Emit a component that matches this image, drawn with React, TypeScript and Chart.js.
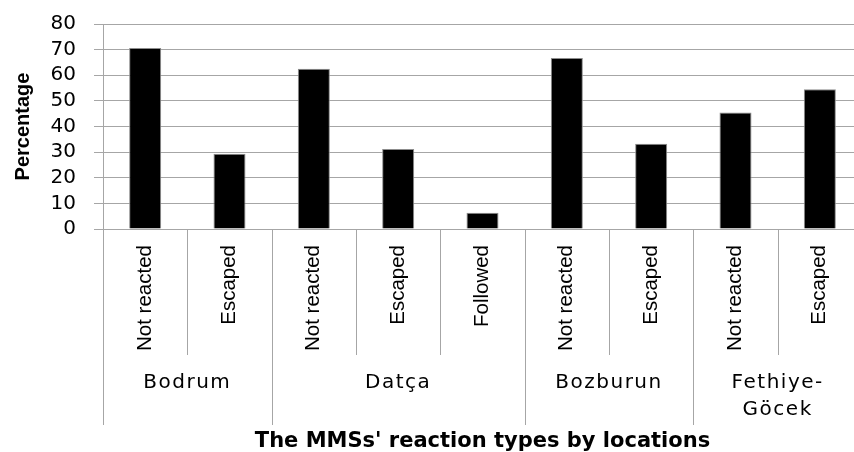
import React, { useEffect, useRef } from "react";
import { Chart, registerables } from "chart.js";

Chart.register(...registerables);

const reactionTypes = [
  "Not reacted",
  "Escaped",
  "Not reacted",
  "Escaped",
  "Followed",
  "Not reacted",
  "Escaped",
  "Not reacted",
  "Escaped",
];
const percentages = [70.6, 29.4, 62.5, 31.2, 6.3, 66.7, 33.3, 45.5, 54.5];
const locations = [["Bodrum"], ["Datça"], ["Bozburun"], ["Fethiye-", "Göcek"]];
const locationSizes = [2, 3, 2, 2];
const yMin = 0;
const yMax = 80;
const yStep = 10;
const yTitle = "Percentage";
const xTitle = "The MMSs' reaction types by locations";

const W = 862;
const H = 452;
const LINE = "#a6a6a6";

const groupPlugin = {
  id: "groupAxis",
  afterDraw(chart: any) {
    const ctx = chart.ctx as CanvasRenderingContext2D;
    const xs = chart.scales.x;
    const area = chart.chartArea;
    const n = reactionTypes.length;
    const bound = (i: number) =>
      i === 0
        ? area.left
        : i === n
        ? area.right
        : (xs.getPixelForValue(i - 1) + xs.getPixelForValue(i)) / 2;

    const groupStarts = new Set<number>();
    let acc = 0;
    groupStarts.add(0);
    locationSizes.forEach((s) => {
      acc += s;
      groupStarts.add(acc);
    });

    ctx.save();
    ctx.strokeStyle = LINE;
    ctx.lineWidth = 1;
    for (let i = 0; i <= n; i++) {
      const px = Math.round(bound(i)) + 0.5;
      const yEnd = groupStarts.has(i) ? area.bottom + 196 : area.bottom + 126;
      ctx.beginPath();
      ctx.moveTo(px, area.bottom);
      ctx.lineTo(px, yEnd);
      ctx.stroke();
    }

    // group labels
    ctx.fillStyle = "#000";
    ctx.textAlign = "center";
    ctx.textBaseline = "middle";
    ctx.font = "20px 'DejaVu Sans'";
    (ctx as any).letterSpacing = "1.5px";
    let start = 0;
    locations.forEach((lines, gi) => {
      const end = start + locationSizes[gi];
      const cx = (bound(start) + bound(end)) / 2;
      lines.forEach((t, li) => {
        ctx.fillText(t, cx, area.bottom + 154 + li * 27);
      });
      start = end;
    });

    // x title
    (ctx as any).letterSpacing = "0px";
    ctx.font = "bold 21px 'DejaVu Sans'";
    ctx.fillText(xTitle, (area.left + area.right) / 2, area.bottom + 213);

    // y title
    ctx.translate(23, (area.top + area.bottom) / 2);
    ctx.rotate(-Math.PI / 2);
    ctx.font = "bold 20px 'Liberation Sans'";
    ctx.fillText(yTitle, 0, 0);
    ctx.restore();
  },
};

export default function App() {
  const ref = useRef<HTMLCanvasElement | null>(null);

  useEffect(() => {
    document.body.style.margin = "0";
    const canvas = ref.current!;
    const chart = new Chart(canvas, {
      type: "bar",
      data: {
        labels: reactionTypes,
        datasets: [
          {
            data: percentages,
            backgroundColor: "#000000",
            borderColor: "#8c8c8c",
            borderWidth: 1,
            barPercentage: 0.38,
            categoryPercentage: 1,
          },
        ],
      },
      options: {
        responsive: false,
        animation: false,
        devicePixelRatio: 1,
        layout: { padding: { top: 24, left: 0, right: 0, bottom: 0 } },
        plugins: {
          legend: { display: false },
          tooltip: { enabled: false },
          title: { display: false },
        },
        scales: {
          x: {
            offset: true,
            grid: { display: false, drawTicks: false },
            border: { display: true, color: LINE },
            ticks: {
              autoSkip: false,
              minRotation: 90,
              maxRotation: 90,
              padding: 16,
              color: "#000",
              font: { family: "'Liberation Sans'", size: 20.5 },
            },
            afterFit: (scale: any) => {
              scale.height = H - 229;
            },
          },
          y: {
            min: yMin,
            max: yMax,
            grid: { color: LINE, tickLength: 9, lineWidth: 1 },
            border: { display: true, color: LINE },
            ticks: {
              autoSkip: false,
              stepSize: yStep,
              padding: 18,
              color: "#000",
              font: { family: "'DejaVu Sans'", size: 20, lineHeight: 0.5 },
            },
            afterFit: (scale: any) => {
              scale.width = 103;
            },
          },
        },
      },
      plugins: [groupPlugin],
    });
    return () => chart.destroy();
  }, []);

  return (
    <div style={{ position: "fixed", left: 0, top: 0, width: W, height: H, background: "#fff" }}>
      <canvas ref={ref} width={W} height={H} style={{ width: W, height: H, display: "block" }} />
    </div>
  );
}
